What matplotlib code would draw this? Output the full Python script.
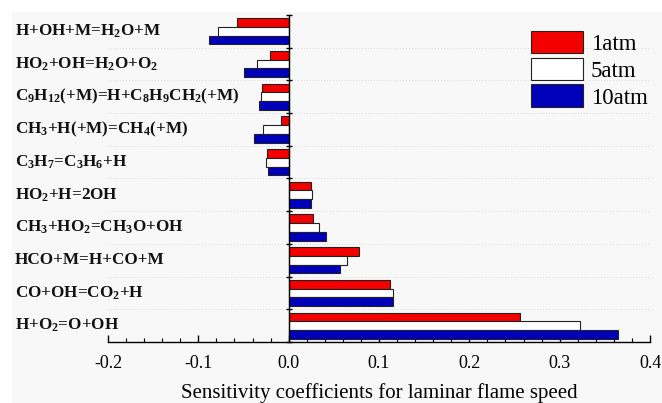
import matplotlib
matplotlib.use("Agg")
import matplotlib.pyplot as plt
import matplotlib.transforms as mtransforms
from matplotlib.patches import Rectangle
import numpy as np

reactions = [
    r"H+OH+M=H$_\mathbf{2}$O+M",
    r"HO$_\mathbf{2}$+OH=H$_\mathbf{2}$O+O$_\mathbf{2}$",
    r"C$_\mathbf{9}$H$_\mathbf{12}$(+M)=H+C$_\mathbf{8}$H$_\mathbf{9}$CH$_\mathbf{2}$(+M)",
    r"CH$_\mathbf{3}$+H(+M)=CH$_\mathbf{4}$(+M)",
    r"C$_\mathbf{3}$H$_\mathbf{7}$=C$_\mathbf{3}$H$_\mathbf{6}$+H",
    r"HO$_\mathbf{2}$+H=2OH",
    r"CH$_\mathbf{3}$+HO$_\mathbf{2}$=CH$_\mathbf{3}$O+OH",
    r"HCO+M=H+CO+M",
    r"CO+OH=CO$_\mathbf{2}$+H",
    r"H+O$_\mathbf{2}$=O+OH",
]
s_1atm = [-0.057, -0.021, -0.029, -0.009, -0.024, 0.025, 0.027, 0.0775, 0.112, 0.256]
s_5atm = [-0.078, -0.035, -0.031, -0.028, -0.025, 0.026, 0.034, 0.065, 0.1155, 0.322]
s_10atm = [-0.088, -0.049, -0.033, -0.038, -0.023, 0.025, 0.041, 0.0565, 0.115, 0.365]
series_labels = ["1atm", "5atm", "10atm"]
colors = ["#f50000", "#ffffff", "#0000bb"]
xticks = [-0.2, -0.1, 0.0, 0.1, 0.2, 0.3, 0.4]
xlabel = "Sensitivity coefficients for laminar flame speed"

plt.rcParams["mathtext.fontset"] = "custom"
plt.rcParams["mathtext.rm"] = "Liberation Serif"
plt.rcParams["mathtext.bf"] = "Liberation Serif:bold"
plt.rcParams["mathtext.it"] = "Liberation Serif:italic"
plt.rcParams["font.family"] = "Liberation Serif"

fig = plt.figure(figsize=(6.62, 4.03), dpi=100)
fig.patches.append(Rectangle((12 / 662, 0), 1, 1 - 12 / 403, transform=fig.transFigure,
                             facecolor="#f8f8f8", edgecolor="none", zorder=-10))
ax = fig.add_axes([108 / 662, 1 - 342 / 403, (650 - 108) / 662, (342 - 15) / 403])
ax.set_facecolor("none")

n = len(reactions)
pos = np.arange(n)[::-1]  # top category has highest y
h = 0.267
for k, (vals, lab, col) in enumerate(zip([s_1atm, s_5atm, s_10atm], series_labels, colors)):
    offs = (1 - k) * h
    ax.barh(pos + offs, vals, height=h, color=col, edgecolor="#222222",
            linewidth=0.8, label=lab, zorder=3)

ax.set_xlim(-0.2, 0.4)
ax.set_ylim(-0.5, n - 0.5)

# grid lines at category boundaries
for b in np.arange(-0.5, n - 0.5 + 0.01, 1.0)[1:-1]:
    ax.axhline(b, color="#d8d8d8", linestyle=(0, (1, 2)), linewidth=0.7, zorder=1)

for sp in ["top", "left"]:
    ax.spines[sp].set_visible(False)
ax.spines["right"].set_position(("data", 0))
ax.spines["right"].set_color("black")
ax.spines["right"].set_linewidth(1.0)
ax.spines["right"].set_zorder(4)
ax.spines["bottom"].set_linewidth(1.0)

ax.set_yticks(pos)
ax.set_yticklabels([])
ax.set_yticks(np.arange(-0.5, n, 1.0), minor=True)
ax.tick_params(axis="y", which="major", left=False, right=False, length=0)
ax.tick_params(axis="y", which="minor", left=False, right=True, direction="inout", length=5, width=1)

trans = mtransforms.blended_transform_factory(fig.transFigure, ax.transData)
for p, lab in zip(pos, reactions):
    ax.text(15 / 662, p, lab, transform=trans, ha="left", va="center",
            fontsize=12.3, fontweight="bold", color="#111111")

ax.set_xticks(xticks)
ax.set_xticklabels(["%.1f" % v for v in xticks], fontsize=13)
ax.set_xticks(np.arange(-0.2, 0.4001, 0.02), minor=True)
ax.tick_params(axis="x", which="major", direction="in", length=5, width=1, pad=9)
ax.tick_params(axis="x", which="minor", direction="in", length=3, width=0.8)
ax.set_xlabel(xlabel, fontsize=15, labelpad=8)

leg = ax.legend(loc="upper right", bbox_to_anchor=(1.013, 0.98), frameon=False,
                fontsize=16.5, handlelength=2.25, handleheight=1.15, labelspacing=0.12,
                handletextpad=0.35, borderaxespad=0.0)

fig.savefig("out.png", dpi=100)
